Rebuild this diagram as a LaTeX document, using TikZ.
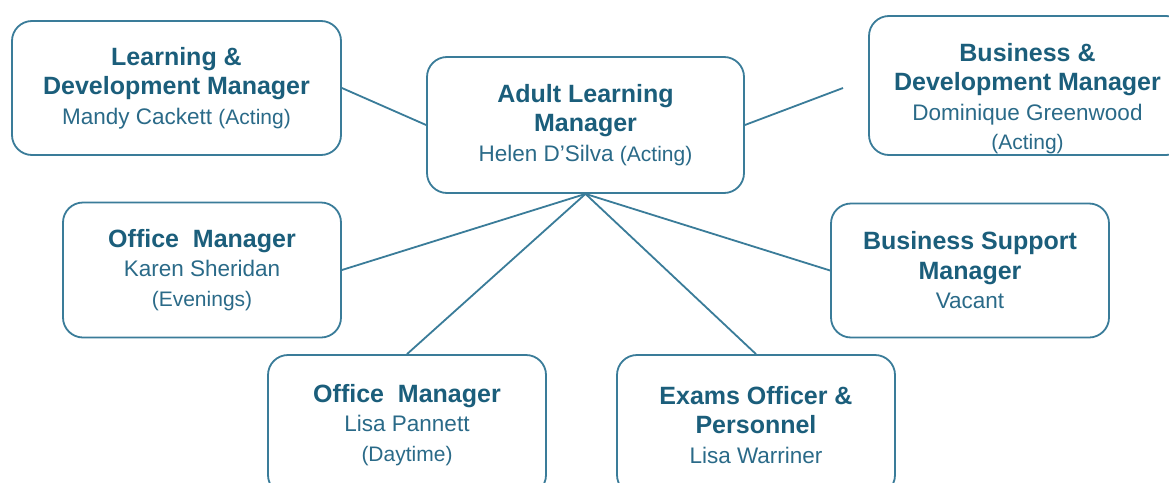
\documentclass[tikz,border=0pt]{standalone}
\usepackage{fontspec}
\setmainfont{Liberation Sans}
\definecolor{boxline}{HTML}{3A7C99}
\definecolor{headtxt}{HTML}{1B5E7B}
\definecolor{nametxt}{HTML}{2A6A88}
\newcommand\orghead{\fontsize{25}{29.5}\selectfont\bfseries}
\newcommand\orgname[1]{{\normalfont\fontsize{22.5}{29.5}\selectfont\color{nametxt}#1}}
\newcommand\orgparen[1]{{\normalfont\fontsize{21}{29.5}\selectfont\color{nametxt}#1}}
\tikzset{
  orgbox/.style={draw=boxline, line width=1.8pt, rounded corners=20pt, fill=white,
    align=center, text=headtxt, inner sep=0pt, font=\orghead},
  orgtext/.style={align=center, text=headtxt, inner sep=0pt, font=\orghead},
  link/.style={draw=boxline, line width=1.8pt},
}
\begin{document}
\begin{tikzpicture}[x=1pt,y=-1pt]
\useasboundingbox (0,0) rectangle (1169,482);
\clip (0,0) rectangle (1169,482);
\fill[white] (0,0) rectangle (1169,482);

\node[orgbox, minimum width=329pt, minimum height=134pt] (ld) at (176.5,88)
  {Learning \&\\Development Manager\\\orgname{Mandy Cackett }\orgparen{(Acting)}};
\node[orgbox, minimum width=317pt, minimum height=136pt] (alm) at (585.5,125)
  {Adult Learning\\Manager\\\orgname{Helen D’Silva }\orgparen{(Acting)}};
\node[orgbox, minimum width=317pt, minimum height=139pt] (bd) at (1027.5,85.5) {};
\node[orgtext] (bdtext) at (1027.5,98.5)
  {Business \&\\Development Manager\\\orgname{Dominique Greenwood}\\\orgparen{(Acting)}};
\node[orgbox, minimum width=278pt, minimum height=135pt] (om1) at (202,270)
  {Office~~Manager\\\orgname{Karen Sheridan}\\\orgparen{(Evenings)}};
\node[orgbox, minimum width=278pt, minimum height=134pt] (bsm) at (970,270.5)
  {Business Support\\Manager\\\orgname{Vacant}};
\node[orgbox, minimum width=278pt, minimum height=140pt] (om2) at (407,425)
  {Office~~Manager\\\orgname{Lisa Pannett}\\\orgparen{(Daytime)}};
\node[orgbox, minimum width=278pt, minimum height=140pt] (ex) at (756,425)
  {Exams Officer \&\\Personnel\\\orgname{Lisa Warriner}};

\coordinate (bdend) at (843,88);
\draw[link] (ld.east) -- (alm.west);
\draw[link] (alm.east) -- (bdend);
\draw[link] (alm.south) -- (om1.east);
\draw[link] (alm.south) -- (om2.north);
\draw[link] (alm.south) -- (ex.north);
\draw[link] (alm.south) -- (bsm.west);
\end{tikzpicture}
\end{document}
